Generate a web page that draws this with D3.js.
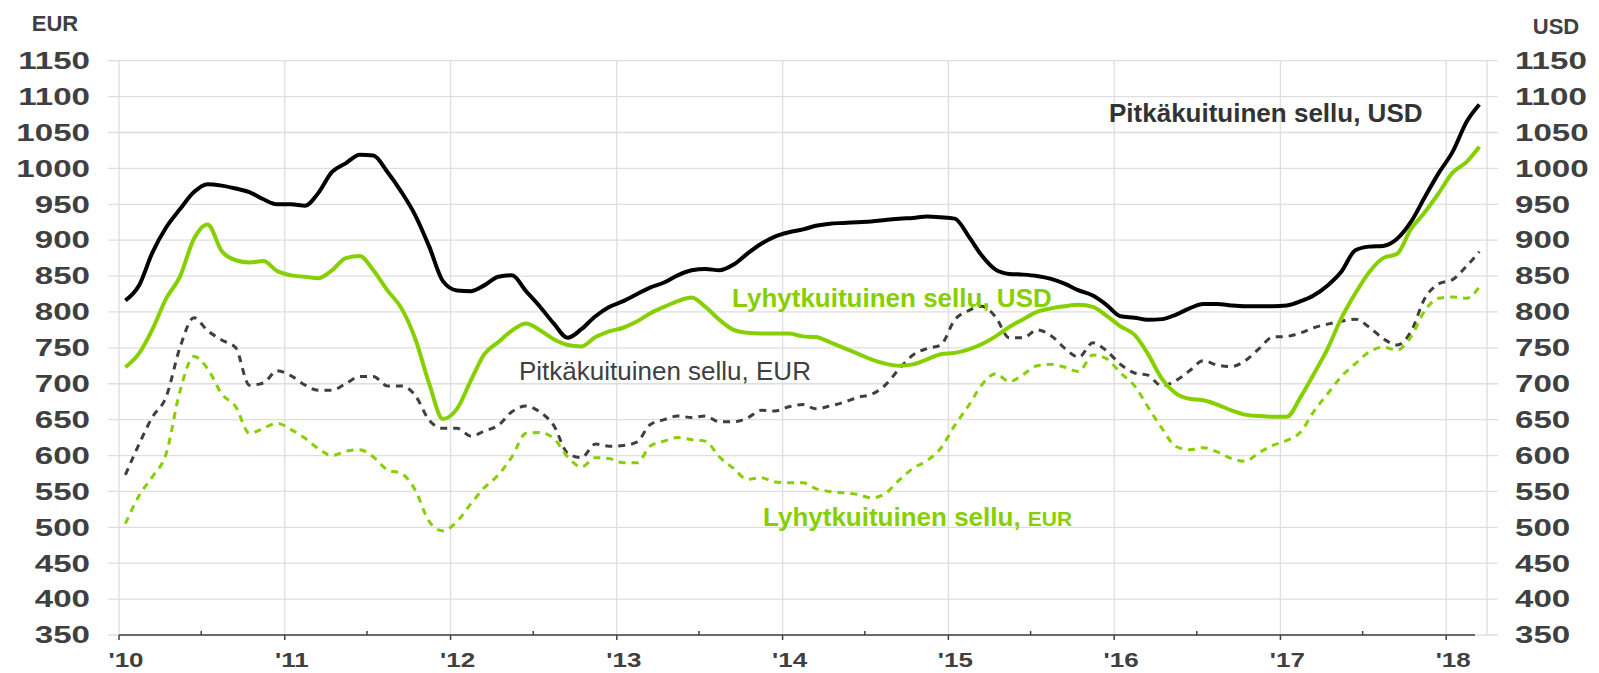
<!DOCTYPE html>
<html>
<head>
<meta charset="utf-8">
<script src="https://cdn.jsdelivr.net/npm/d3@7"></script>
<style>
  body { margin: 0; background: #fff; }
  text { font-family: "Liberation Sans", Arial, sans-serif; }
</style>
</head>
<body>
<svg id="chart" width="1599" height="673"></svg>
<script>
// monthly values, Jan 2010 .. Mar 2018
const nbskUsd = [816, 838, 882, 918, 943, 967, 978, 976, 972, 967, 957, 950,
  950, 948, 965, 995, 1007, 1019, 1018, 995, 967, 935, 891, 843,
  830, 829, 837, 849, 851, 829, 808, 784, 764, 776, 794, 807,
  815, 825, 834, 841, 851, 858, 860, 858, 866, 881, 895, 905,
  911, 915, 920, 923, 924, 925, 926, 928, 930, 931, 933, 932,
  930, 905, 879, 859, 853, 852, 850, 846, 839, 830, 823, 810,
  794, 792, 789, 790, 796, 805, 811, 811, 809, 808, 808, 808,
  809, 815, 823, 837, 856, 886, 891, 892, 902, 925, 960, 993,
  1023, 1065, 1089];

const lbkUsd = [723, 743, 775, 819, 849, 902, 922, 885, 872, 869, 871, 857,
  851, 849, 847, 858, 875, 878, 858, 830, 805, 763, 700, 651,
  665, 705, 741, 758, 774, 784, 775, 762, 754, 752, 765, 773,
  778, 787, 798, 807, 815, 820, 807, 789, 775, 771, 770, 770,
  770, 766, 765, 758, 750, 742, 734, 728, 725, 727, 734, 741,
  743, 748, 755, 766, 779, 790, 800, 805, 808, 810, 807, 795,
  780, 768, 742, 707, 687, 679, 677, 671, 663, 657, 655, 654,
  654, 682, 713, 749, 791, 826, 855, 875, 881, 915, 939, 965,
  994, 1009, 1030];

const nbskEur = [573, 617, 653, 682, 750, 792, 774, 761, 750, 698, 701, 718,
  711, 698, 691, 691, 700, 710, 710, 697, 697, 684, 649, 638,
  638, 627, 634, 642, 661, 669, 661, 642, 603, 597, 616, 613,
  614, 619, 643, 650, 655, 653, 655, 647, 647, 652, 663, 662,
  668, 671, 665, 669, 674, 681, 685, 698, 721, 740, 749, 754,
  789, 802, 808, 793, 764, 764, 775, 767, 749, 737, 757, 746,
  727, 715, 712, 697, 704, 718, 732, 726, 724, 732, 749, 765,
  766, 771, 778, 783, 787, 790, 779, 763, 754, 772, 819, 839,
  845, 864, 884];

const lbkEur = [505, 545, 570, 603, 689, 738, 721, 686, 668, 631, 638, 645,
  636, 624, 610, 600, 606, 608, 598, 580, 575, 552, 508, 495,
  508, 533, 555, 573, 598, 631, 632, 624, 598, 584, 597, 596,
  590, 590, 613, 620, 625, 622, 620, 598, 582, 567, 569, 563,
  562, 562, 554, 550, 548, 546, 541, 547, 566, 582, 593, 610,
  642, 670, 698, 714, 703, 713, 725, 727, 723, 717, 740, 735,
  715, 697, 668, 638, 613, 608, 611, 605, 596, 592, 604, 614,
  621, 633, 661, 686, 710, 728, 744, 751, 747, 765, 802, 819,
  821, 819, 835];

const yTickValues = [350, 400, 450, 500, 550, 600, 650, 700, 750, 800, 850, 900, 950, 1000, 1050, 1100, 1150];
const years = [2010, 2011, 2012, 2013, 2014, 2015, 2016, 2017, 2018];
const yearLabels = ["'10", "'11", "'12", "'13", "'14", "'15", "'16", "'17", "'18"];

const green = "#86cf00";
const textGrey = "#404040";

const svg = d3.select("#chart");

const months = d3.timeMonth.range(new Date(2010, 0, 1), new Date(2018, 3, 1));
const dates = months.map(m => d3.timeDay.offset(m, 14));

const x = d3.scaleTime()
  .domain([new Date(2010, 0, 1), new Date(2018, 0, 1)])
  .range([119, 1446.2]);
const y = d3.scaleLinear()
  .domain([350, 1150])
  .range([635, 60.7]);

const plotRight = 1487;

// grid
svg.append("g")
  .selectAll("line")
  .data(yTickValues)
  .join("line")
  .attr("x1", 108).attr("x2", 1498)
  .attr("y1", d => y(d)).attr("y2", d => y(d))
  .attr("stroke", "#dedede").attr("stroke-width", 1.3);

svg.append("g")
  .selectAll("line")
  .data(years.map(yr => x(new Date(yr, 0, 1))).concat([plotRight]))
  .join("line")
  .attr("x1", d => d).attr("x2", d => d)
  .attr("y1", y(1150)).attr("y2", y(350))
  .attr("stroke", "#dedede").attr("stroke-width", 1.3);

// x axis
svg.append("line")
  .attr("x1", 119).attr("x2", 1475)
  .attr("y1", y(350)).attr("y2", y(350))
  .attr("stroke", textGrey).attr("stroke-width", 1.5);

svg.append("g")
  .selectAll("line")
  .data(years)
  .join("line")
  .attr("x1", d => x(new Date(d, 0, 1))).attr("x2", d => x(new Date(d, 0, 1)))
  .attr("y1", y(350)).attr("y2", y(350) + 5)
  .attr("stroke", textGrey).attr("stroke-width", 1.5);

svg.append("g")
  .selectAll("line")
  .data(years.slice(0, -1))
  .join("line")
  .attr("x1", d => x(new Date(d, 6, 1))).attr("x2", d => x(new Date(d, 6, 1)))
  .attr("y1", y(350) - 4).attr("y2", y(350))
  .attr("stroke", textGrey).attr("stroke-width", 1.5);

svg.append("g")
  .selectAll("text")
  .data(years)
  .join("text")
  .attr("transform", d => `translate(${x(new Date(d, 0, 1)) + 7},667) scale(1.3,1)`)
  .attr("text-anchor", "middle")
  .attr("font-size", 20).attr("font-weight", "bold")
  .attr("fill", textGrey)
  .text((d, i) => yearLabels[i]);

// y tick labels, both sides
const tickLabels = (xPos, anchor) => svg.append("g")
  .selectAll("text")
  .data(yTickValues)
  .join("text")
  .attr("transform", d => `translate(${xPos},${y(d) + 8.3}) scale(1.44,1)`)
  .attr("text-anchor", anchor)
  .attr("font-size", 23).attr("font-weight", "bold")
  .attr("fill", textGrey)
  .text(d => d);
tickLabels(90, "end");
tickLabels(1515, "start");

svg.append("text").attr("x", 55).attr("y", 31)
  .attr("text-anchor", "middle").attr("font-size", 22).attr("font-weight", "bold")
  .attr("fill", textGrey).text("EUR");
svg.append("text").attr("x", 1556).attr("y", 34)
  .attr("text-anchor", "middle").attr("font-size", 22).attr("font-weight", "bold")
  .attr("fill", textGrey).text("USD");

// series
const line = d3.line()
  .x((d, i) => x(dates[i]))
  .y(d => y(d))
  .curve(d3.curveMonotoneX);

const series = [
  { values: nbskEur, color: "#3f3f3f", width: 3, dash: "7,6" },
  { values: lbkEur, color: green, width: 3, dash: "7,6" },
  { values: lbkUsd, color: green, width: 4, dash: null },
  { values: nbskUsd, color: "#000", width: 4, dash: null }
];

svg.append("g")
  .selectAll("path")
  .data(series)
  .join("path")
  .attr("d", d => line(d.values))
  .attr("fill", "none")
  .attr("stroke", d => d.color)
  .attr("stroke-width", d => d.width)
  .attr("stroke-dasharray", d => d.dash)
  .attr("stroke-linejoin", "round");

// labels
svg.append("text").attr("x", 1109).attr("y", 122)
  .attr("font-size", 26).attr("font-weight", "bold").attr("fill", "#333")
  .text("Pitkäkuituinen sellu, USD");
svg.append("text").attr("x", 732).attr("y", 307)
  .attr("font-size", 26).attr("font-weight", "bold").attr("fill", green)
  .text("Lyhytkuituinen sellu, USD");
svg.append("text").attr("x", 519).attr("y", 380)
  .attr("font-size", 26).attr("fill", textGrey)
  .text("Pitkäkuituinen sellu, EUR");
const eurLabel = svg.append("text").attr("x", 763).attr("y", 526)
  .attr("font-size", 26).attr("font-weight", "bold").attr("fill", green);
eurLabel.append("tspan").text("Lyhytkuituinen sellu, ");
eurLabel.append("tspan").attr("font-size", 21).text("EUR");
</script>
</body>
</html>
